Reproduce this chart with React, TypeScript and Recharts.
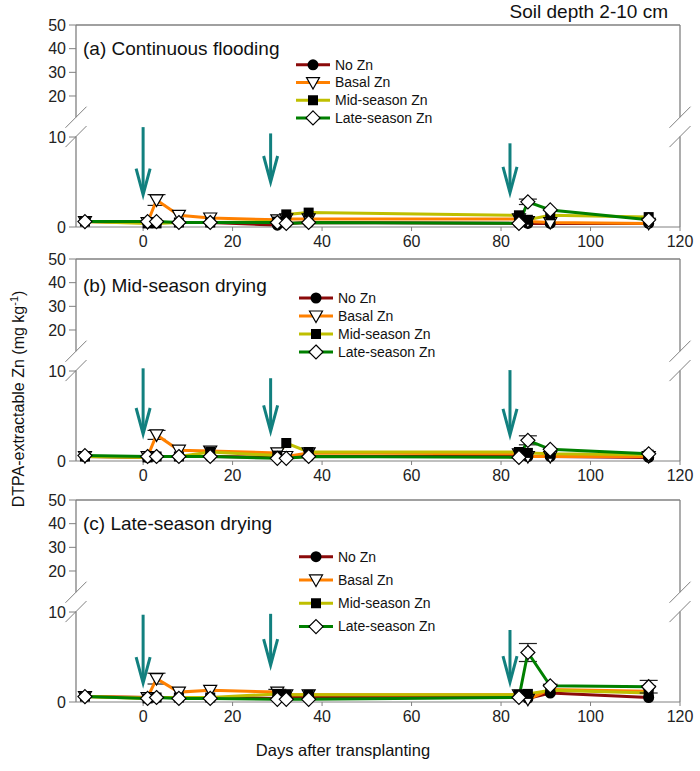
import React from 'react';
import { LineChart, Line, XAxis, YAxis, ReferenceLine, Legend, ErrorBar } from 'recharts';

// sampling days (days after transplanting)
const days = [-13, 1, 3, 8, 15, 30, 32, 37, 84, 86, 91, 113];

// (a) Continuous flooding
const noZnA = [0.6, 0.5, 0.5, 0.5, 0.5, 0.2, 0.4, 0.5, 0.4, 0.4, 0.4, 0.4];
const basalA = [0.6, 0.5, 3.0, 1.3, 1.0, 0.8, 0.9, 0.9, 0.9, 0.6, 0.5, 0.4];
const midA = [0.6, 0.4, 0.4, 0.5, 0.5, 0.6, 1.4, 1.6, 1.3, 0.8, 1.3, 1.1];
const lateA = [0.6, 0.6, 0.6, 0.5, 0.5, 0.5, 0.4, 0.5, 0.4, 2.8, 1.9, 0.8];
const basalErrA = [0, 0, 0.6, 0, 0, 0, 0, 0, 0, 0, 0, 0];
const lateErrA = [0, 0, 0, 0, 0, 0, 0, 0, 0, 0.3, 0, 0];

// (b) Mid-season drying
const noZnB = [0.5, 0.4, 0.5, 0.5, 0.5, 0.4, 0.4, 0.5, 0.5, 0.5, 0.5, 0.4];
const basalB = [0.5, 0.5, 2.9, 1.2, 1.1, 0.9, 0.5, 0.9, 0.8, 0.5, 0.5, 0.5];
const midB = [0.5, 0.4, 0.5, 0.5, 1.0, 0.6, 2.0, 1.0, 1.0, 0.9, 0.8, 0.7];
const lateB = [0.6, 0.5, 0.5, 0.5, 0.5, 0.3, 0.3, 0.5, 0.4, 2.3, 1.3, 0.8];
const basalErrB = [0, 0, 0.5, 0, 0, 0, 0, 0, 0, 0, 0, 0];
const lateErrB = [0, 0, 0, 0, 0, 0, 0, 0, 0, 0.5, 0, 0];

// (c) Late-season drying
const noZnC = [0.6, 0.5, 0.5, 0.5, 0.5, 0.4, 0.5, 0.6, 0.6, 0.4, 1.0, 0.5];
const basalC = [0.6, 0.5, 2.6, 1.1, 1.3, 1.1, 0.8, 0.8, 0.8, 0.3, 1.4, 1.2];
const midC = [0.6, 0.4, 0.5, 0.5, 0.5, 0.9, 0.8, 0.8, 0.8, 0.9, 1.3, 1.0];
const lateC = [0.6, 0.4, 0.5, 0.4, 0.4, 0.3, 0.3, 0.3, 0.5, 5.5, 1.8, 1.7];
const basalErrC = [0, 0, 0.6, 0, 0, 0.3, 0, 0, 0, 0, 0, 0];
const lateErrC = [0, 0, 0, 0, 0, 0, 0, 0, 0, 1.0, 0, 0.7];

// Zn application arrows: day, top and tip (mg/kg on the lower scale)
const arrowDays = [0, 28.5, 82];
const arrowTopA = [11.1, 10.4, 9.3];
const arrowTipA = [3.6, 5.0, 3.8];
const arrowTopB = [10.3, 9.2, 10.1];
const arrowTipB = [3.0, 3.3, 2.9];
const arrowTopC = [9.7, 9.8, 8.0];
const arrowTipC = [2.1, 4.1, 2.2];

const xTicks = [0, 20, 40, 60, 80, 100, 120];
const yTickLabels = [0, 10, 20, 30, 40, 50];

// broken y axis: 0-10 linear, then compressed 20-50 above the break
const axisPos = (v: number) => (v <= 10 ? v : 14.56 + (v - 20) * 0.263);
const Y_TOP = axisPos(50);
const yTicks = yTickLabels.map(axisPos);
const BREAK_HI = 12.2;
const BREAK_LO = 10.05;

const FONT = '"Liberation Sans", Arial, sans-serif';
const AXIS = '#808080';
const TEAL = '#12807f';

const SERIES = [
  { key: 'noZn', name: 'No Zn', color: '#8b0a0a', marker: 'circle' },
  { key: 'basal', name: 'Basal Zn', color: '#ff8000', marker: 'triangle' },
  { key: 'mid', name: 'Mid-season Zn', color: '#bfbf00', marker: 'square' },
  { key: 'late', name: 'Late-season Zn', color: '#008000', marker: 'diamond' },
];

const PANELS = [
  { title: '(a) Continuous flooding', top: 0, titleY: 48, noZn: noZnA, basal: basalA, mid: midA, late: lateA, basalErr: basalErrA, lateErr: lateErrA, arrowTop: arrowTopA, arrowTip: arrowTipA, legendLeft: 296, legendTop: 56, legendGap: 17.7 },
  { title: '(b) Mid-season drying', top: 234, titleY: 285, noZn: noZnB, basal: basalB, mid: midB, late: lateB, basalErr: basalErrB, lateErr: lateErrB, arrowTop: arrowTopB, arrowTip: arrowTipB, legendLeft: 299, legendTop: 55, legendGap: 18 },
  { title: '(c) Late-season drying', top: 475, titleY: 523, noZn: noZnC, basal: basalC, mid: midC, late: lateC, basalErr: basalErrC, lateErr: lateErrC, arrowTop: arrowTopC, arrowTip: arrowTipC, legendLeft: 299, legendTop: 70, legendGap: 23.3 },
];

function Marker({ kind, cx, cy }: { kind: string; cx: number; cy: number }) {
  if (cx == null || cy == null) return null;
  if (kind === 'circle') return <circle cx={cx} cy={cy} r={5.5} fill="#000" />;
  if (kind === 'square') return <rect x={cx - 5} y={cy - 5} width={10} height={10} fill="#000" />;
  if (kind === 'triangle')
    return <path d={`M${cx - 6.5},${cy - 5} L${cx + 6.5},${cy - 5} L${cx},${cy + 6.5} Z`} fill="#fff" stroke="#000" strokeWidth={1.2} />;
  return <path d={`M${cx},${cy - 7} L${cx + 7},${cy} L${cx},${cy + 7} L${cx - 7},${cy} Z`} fill="#fff" stroke="#000" strokeWidth={1.2} />;
}

const Arrow = (props: any) => {
  const { x1, y1, y2 } = props;
  const top = Math.min(y1, y2);
  const tip = Math.max(y1, y2);
  return (
    <g>
      <line x1={x1} y1={top} x2={x1} y2={tip - 2} stroke={TEAL} strokeWidth={3} />
      <polyline points={`${x1 - 7},${tip - 26} ${x1},${tip} ${x1 + 7},${tip - 26}`} fill="none" stroke={TEAL} strokeWidth={3} />
    </g>
  );
};

function LegendBox({ gap }: { gap: number }) {
  return (
    <svg width={180} height={gap * 4}>
      {SERIES.map((s, i) => {
        const y = gap * i + gap / 2;
        return (
          <g key={s.key}>
            <line x1={0} x2={34} y1={y} y2={y} stroke={s.color} strokeWidth={3} />
            <Marker kind={s.marker} cx={17} cy={y} />
            <text x={39} y={y} dy="0.35em" fontSize={14} fontFamily={FONT} fill="#111">
              {s.name}
            </text>
          </g>
        );
      })}
    </svg>
  );
}

function Panel({ p }: { p: (typeof PANELS)[number] }) {
  const rows = days.map((d, i) => ({
    day: d,
    noZn: p.noZn[i],
    basal: p.basal[i],
    mid: p.mid[i],
    late: p.late[i],
    basalErr: p.basalErr[i],
    lateErr: p.lateErr[i],
  }));
  const frame = { stroke: AXIS, strokeWidth: 1.3, ifOverflow: 'visible' as const };
  const slash = (x: number, y: number) => [
    { x: x - 2.35, y: y - 1.17 },
    { x: x + 2.35, y: y + 1.17 },
  ];
  return (
    <div style={{ position: 'absolute', left: 0, top: p.top }}>
      <LineChart width={700} height={262} data={rows} margin={{ top: 25, right: 20, bottom: 5, left: 0 }}>
        <XAxis
          type="number"
          dataKey="day"
          domain={[-15, 120]}
          ticks={xTicks}
          interval={0}
          height={30}
          tickSize={4}
          tickMargin={5}
          stroke={AXIS}
          tick={{ fill: '#222', fontSize: 16, fontFamily: FONT }}
        />
        <YAxis
          type="number"
          domain={[0, Y_TOP]}
          ticks={yTicks}
          interval={0}
          width={76}
          axisLine={false}
          tickSize={7}
          tickMargin={3}
          stroke={AXIS}
          tick={{ fill: '#222', fontSize: 16, fontFamily: FONT }}
          tickFormatter={(v: number) => String(yTickLabels[yTicks.findIndex((t) => Math.abs(t - v) < 1e-6)])}
        />
        {/* frame with broken axes */}
        <ReferenceLine segment={[{ x: -15, y: Y_TOP }, { x: 120, y: Y_TOP }]} {...frame} />
        {[-15, 120].map((x) => (
          <React.Fragment key={x}>
            <ReferenceLine segment={[{ x, y: Y_TOP }, { x, y: BREAK_HI }]} {...frame} />
            <ReferenceLine segment={[{ x, y: BREAK_LO }, { x, y: 0 }]} {...frame} />
            <ReferenceLine segment={slash(x, BREAK_HI)} {...frame} strokeWidth={1} />
            <ReferenceLine segment={slash(x, BREAK_LO)} {...frame} strokeWidth={1} />
          </React.Fragment>
        ))}
        {arrowDays.map((d, i) => (
          <ReferenceLine
            key={'arr' + i}
            segment={[{ x: d, y: p.arrowTop[i] }, { x: d, y: p.arrowTip[i] }]}
            ifOverflow="visible"
            shape={Arrow}
          />
        ))}
        {SERIES.map((s) => (
          <Line
            key={s.key}
            type="linear"
            dataKey={s.key}
            name={s.name}
            stroke={s.color}
            strokeWidth={3}
            isAnimationActive={false}
            activeDot={false}
            dot={(dp: any) => <Marker key={s.key + dp.index} kind={s.marker} cx={dp.cx} cy={dp.cy} />}
          >
            {s.key === 'basal' && <ErrorBar dataKey="basalErr" width={9} stroke="#222" strokeWidth={1.2} />}
            {s.key === 'late' && <ErrorBar dataKey="lateErr" width={9} stroke="#222" strokeWidth={1.2} />}
          </Line>
        ))}
        <Legend
          layout="vertical"
          align="center"
          verticalAlign="middle"
          wrapperStyle={{ left: p.legendLeft, top: p.legendTop, width: 180 }}
          content={() => <LegendBox gap={p.legendGap} />}
        />
      </LineChart>
    </div>
  );
}

export default function App() {
  return (
    <div style={{ position: 'absolute', left: 0, top: 0, width: 700, height: 771, background: '#fff', fontFamily: FONT }}>
      {PANELS.map((p) => (
        <Panel key={p.title} p={p} />
      ))}
      <svg width={700} height={771} style={{ position: 'absolute', left: 0, top: 0, pointerEvents: 'none' }} fontFamily={FONT}>
        <text x={668} y={11} dy="0.35em" textAnchor="end" fontSize={19} fill="#111">
          Soil depth 2-10 cm
        </text>
        {PANELS.map((p) => (
          <text key={p.title} x={83} y={p.titleY} dy="0.35em" fontSize={19} fill="#111">
            {p.title}
          </text>
        ))}
        <text x={343} y={750} dy="0.35em" textAnchor="middle" fontSize={16.5} fill="#111">
          Days after transplanting
        </text>
        <text transform="translate(18,399) rotate(-90)" textAnchor="middle" dy="0.35em" fontSize={16} fill="#111">
          DTPA-extractable Zn (mg kg
          <tspan fontSize={11} baselineShift="super">-1</tspan>)
        </text>
      </svg>
    </div>
  );
}
